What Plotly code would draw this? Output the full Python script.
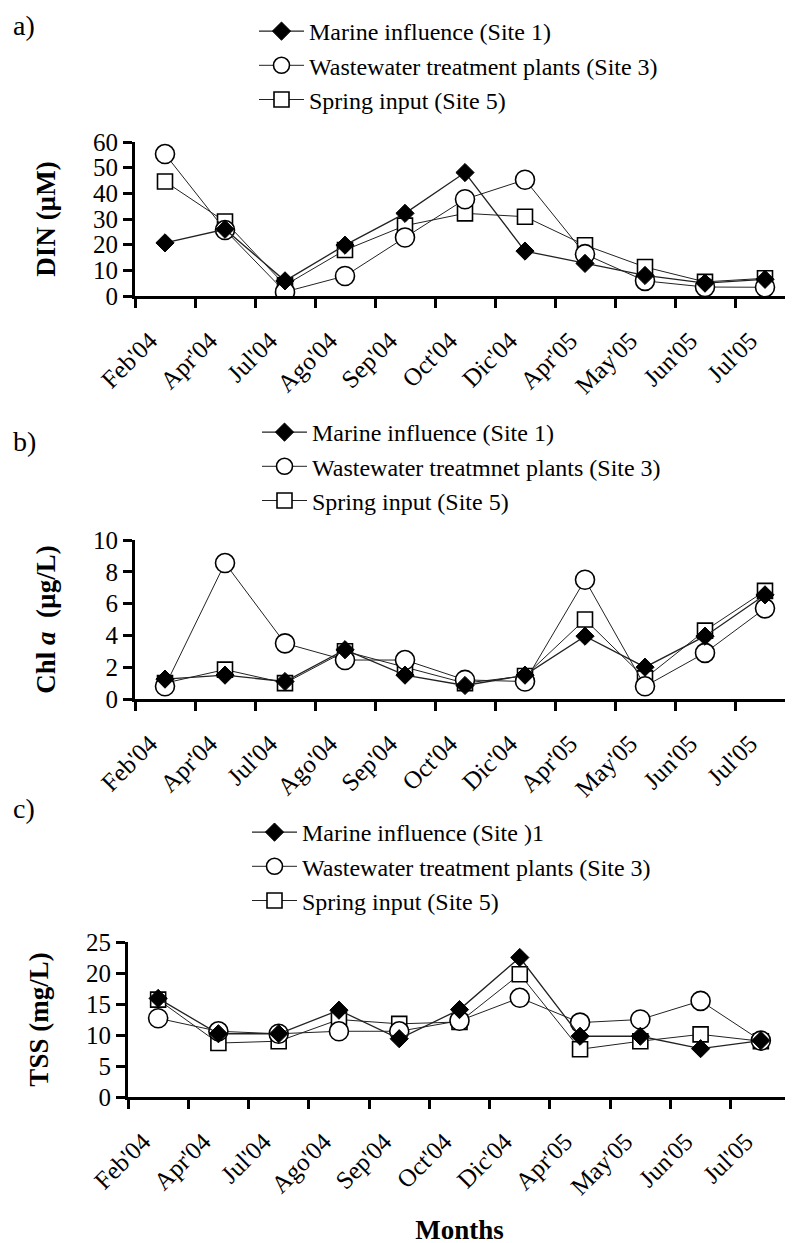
import plotly.graph_objects as go

W, H = 793, 1243
OFF = 8  # the page body adds an 8px margin; layout positions below are page pixels minus this

months = ["Feb'04", "Apr'04", "Jul'04", "Ago'04", "Sep'04", "Oct'04",
          "Dic'04", "Apr'05", "May'05", "Jun'05", "Jul'05"]

# Panel a) DIN (uM)
din_marine = [20.7, 26.0, 5.9, 19.8, 32.2, 48.1, 17.5, 12.7, 8.0, 5.0, 6.5]
din_wwtp = [55.3, 25.7, 1.6, 7.8, 22.8, 37.7, 45.3, 16.3, 5.9, 3.5, 3.4]
din_spring = [44.6, 29.0, 4.2, 17.9, 27.4, 32.2, 30.9, 19.8, 11.3, 5.5, 6.9]

# Panel b) Chl a (ug/L)
chl_marine = [1.25, 1.5, 1.1, 3.1, 1.5, 0.85, 1.5, 3.95, 2.0, 3.95, 6.55]
chl_wwtp = [0.8, 8.55, 3.5, 2.45, 2.45, 1.2, 1.1, 7.5, 0.8, 2.9, 5.7]
chl_spring = [1.0, 1.85, 1.0, 3.0, 2.0, 1.0, 1.45, 5.0, 1.3, 4.3, 6.8]

# Panel c) TSS (mg/L)
tss_marine = [15.9, 10.2, 10.2, 14.0, 9.4, 14.1, 22.5, 9.8, 9.8, 7.8, 9.1]
tss_wwtp = [12.7, 10.6, 10.2, 10.6, 10.6, 12.3, 16.0, 12.0, 12.5, 15.5, 9.1]
tss_spring = [15.7, 8.7, 9.0, 12.5, 11.8, 12.1, 19.8, 7.7, 9.0, 10.1, 9.0]

legend_a = ["Marine influence (Site 1)", "Wastewater treatment plants (Site 3)", "Spring input (Site 5)"]
legend_b = ["Marine influence (Site 1)", "Wastewater treatmnet plants (Site 3)", "Spring input (Site 5)"]
legend_c = ["Marine influence (Site )1", "Wastewater treatment plants (Site 3)", "Spring input (Site 5)"]

FONT = "Liberation Serif"

styles = [
    dict(symbol="diamond", size=14, color="black", lw=1.3, mline=1),
    dict(symbol="circle", size=19, color="white", lw=1.0, mline=1.6),
    dict(symbol="square", size=15, color="white", lw=1.0, mline=1.6),
]

fig = go.Figure()

panels = [
    ("x", "y", "legend", [din_marine, din_wwtp, din_spring], legend_a),
    ("x2", "y2", "legend2", [chl_marine, chl_wwtp, chl_spring], legend_b),
    ("x3", "y3", "legend3", [tss_marine, tss_wwtp, tss_spring], legend_c),
]

for pi, (xa, ya, lg, series, names) in enumerate(panels):
    for si in [2, 1, 0]:
        st = styles[si]
        fig.add_trace(go.Scatter(
            x=months, y=series[si], xaxis=xa, yaxis=ya,
            mode="lines+markers", name=names[si], legend=lg,
            legendgroup=f"p{pi}s{si}", legendrank=si + 1,
            line=dict(color="#222222", width=st["lw"]),
            marker=dict(symbol=st["symbol"], size=st["size"], color=st["color"],
                        line=dict(color="black", width=st["mline"])),
        ))

def px_x(v):
    return (v - OFF) / W

def px_y(v):
    return 1 - (v - OFF) / H

axis_common = dict(
    showline=True, linecolor="black", linewidth=3, mirror=False,
    showgrid=False, zeroline=False, automargin=False,
    ticks="outside", tickcolor="black", tickwidth=3, ticklen=9,
    tickfont=dict(family=FONT, size=25, color="black"),
)

xcommon = dict(axis_common, type="category", tickson="boundaries", tickangle=-45,
               range=[-0.5, 10.5], ticklabelshift=-15, ticklabelstandoff=17)

TITLE_FONT = dict(family=FONT, size=27, color="black")

fig.update_layout(
    template="none",
    width=W, height=H,
    margin=dict(l=0, r=0, t=0, b=0, autoexpand=False),
    paper_bgcolor="white", plot_bgcolor="white",
    font=dict(family=FONT, color="black"),
    showlegend=True,
    xaxis=dict(xcommon, domain=[px_x(135), px_x(795)], anchor="y"),
    yaxis=dict(axis_common, domain=[px_y(296), px_y(142)], anchor="x",
               range=[0, 60], dtick=10,
               title=dict(text="<b>DIN (µM)</b>", font=TITLE_FONT, standoff=30)),
    xaxis2=dict(xcommon, domain=[px_x(135), px_x(795)], anchor="y2"),
    yaxis2=dict(axis_common, domain=[px_y(699), px_y(540)], anchor="x2",
                range=[0, 10], dtick=2,
                title=dict(text="<b>Chl <i>a</i>  (µg/L)</b>", font=TITLE_FONT, standoff=30)),
    xaxis3=dict(xcommon, domain=[px_x(128), px_x(791)], anchor="y3",
                title=dict(text="<b>Months</b>", font=TITLE_FONT, standoff=21)),
    yaxis3=dict(axis_common, domain=[px_y(1097), px_y(942)], anchor="x3",
                range=[0, 25], dtick=5,
                title=dict(text="<b>TSS (mg/L)</b>", font=TITLE_FONT, standoff=30)),
)

leg_common = dict(font=dict(family=FONT, size=24, color="black"), bgcolor="rgba(0,0,0,0)",
                  xanchor="left", yanchor="top", tracegroupgap=5, traceorder="normal",
                  itemwidth=45)
fig.update_layout(
    legend=dict(leg_common, x=px_x(254), y=px_y(9)),
    legend2=dict(leg_common, x=px_x(257), y=px_y(410)),
    legend3=dict(leg_common, x=px_x(247), y=px_y(810)),
)

for txt, yy in [("a)", 25), ("b)", 441), ("c)", 808)]:
    fig.add_annotation(text=txt, xref="paper", yref="paper", x=px_x(11), y=px_y(yy),
                       xanchor="left", yanchor="middle", showarrow=False,
                       font=dict(family=FONT, size=28, color="black"))

fig.write_html("out.html")
